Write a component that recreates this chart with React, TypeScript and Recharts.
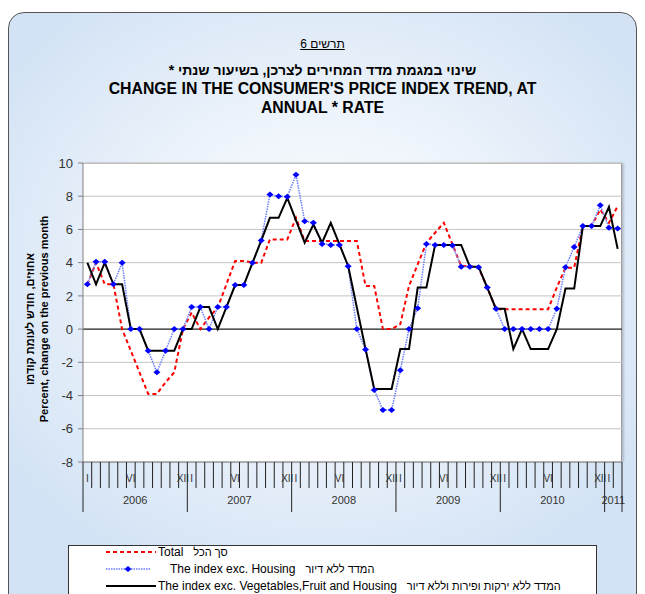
import React from 'react';
import { LineChart, Line, XAxis, YAxis, CartesianGrid, ReferenceLine } from 'recharts';

// monthly, Jan 2006 .. Feb 2011
const years = ['2006', '2007', '2008', '2009', '2010', '2011'];
const monthLabels = ['I', '', '', '', '', 'VI', '', '', '', '', '', 'XII'];

const total = [
  2.7, 4.0, 2.7, 2.7, 0, -1.3, -2.6, -3.9, -3.9, -3.2, -2.6, 0,
  1.0, 0, 0.7, 1.3, 2.7, 4.1, 4.1, 4.0, 4.0, 5.4, 5.4, 5.4,
  6.7, 5.3, 5.3, 5.3, 5.3, 5.3, 5.3, 5.3, 2.6, 2.6, 0, 0,
  0.3, 2.6, 3.9, 5.2, 5.8, 6.4, 5.1, 3.8, 3.8, 3.7, 2.5, 1.2,
  1.2, 1.2, 1.2, 1.2, 1.2, 1.2, 2.5, 3.7, 3.7, 6.2, 6.2, 7.2,
  6.4, 7.4,
];

const exHousing = [
  2.7, 4.05, 4.05, 2.7, 4.0, 0, 0, -1.3, -2.6, -1.3, 0, 0,
  1.33, 1.33, 0, 1.33, 1.33, 2.65, 2.65, 4.0, 5.33, 8.1, 8.0, 7.97,
  9.3, 6.5, 6.4, 5.13, 5.07, 5.07, 3.78, 0, -1.23, -3.66, -4.87, -4.87,
  -2.48, 0, 1.25, 5.13, 5.07, 5.07, 5.03, 3.76, 3.76, 3.72, 2.5, 1.23,
  0, 0, 0, 0, 0, 0, 1.23, 3.72, 4.95, 6.2, 6.2, 7.45,
  6.1, 6.06,
];

const exVegFruitHousing = [
  4.0, 2.7, 4.0, 2.7, 2.7, 0, 0, -1.3, -1.3, -1.3, -1.3, 0,
  0, 1.33, 1.33, 0, 1.33, 2.65, 2.65, 4.0, 5.33, 6.7, 6.7, 7.9,
  6.55, 5.2, 6.3, 5.2, 6.4, 5.1, 3.8, 1.3, -1.2, -3.6, -3.6, -3.6,
  -1.2, -1.2, 2.5, 2.5, 5.07, 5.07, 5.07, 5.07, 3.76, 3.76, 2.5, 1.23,
  1.23, -1.2, 0, -1.2, -1.2, -1.2, 0, 2.44, 2.44, 6.2, 6.2, 6.2,
  7.35, 4.83,
];

const yTicks = [-8, -6, -4, -2, 0, 2, 4, 6, 8, 10];

const N = total.length;
const data = total.map((t, i) => ({
  x: i + 0.5,
  total: t,
  exHousing: exHousing[i],
  exVeg: exVegFruitHousing[i],
}));
const boundaries = Array.from({ length: N + 1 }, (_, i) => i);

const FONT = '"Liberation Sans", Arial, sans-serif';
const PLOT_L = 83;
const PLOT_R = 622;
const PLOT_T = 163;
const PLOT_B = 462;
const MONTH_W = (PLOT_R - PLOT_L) / N;

const yearCenter = (k: number) => (12 * k + Math.min(12 * k + 12, N)) / 2;

const XTick = (props: any) => {
  const { x, y, payload } = props;
  const v = payload.value as number;
  const isYearEdge = v % 12 === 0 || v === N;
  const label = v < N ? monthLabels[v % 12] : '';
  const yi = years.findIndex((_, k) => yearCenter(k) === v);
  return (
    <g>
      <line x1={x} y1={y} x2={x} y2={y + (isYearEdge ? 50 : 26)} stroke="#222" strokeWidth={1} />
      {label && (
        <text x={x + MONTH_W / 2} y={y + 20} textAnchor="middle" fontSize={10} fill="#333" fontFamily={FONT}>
          {label}
        </text>
      )}
      {yi >= 0 && (
        <text x={x} y={y + 42} textAnchor="middle" fontSize={11} fill="#333" fontFamily={FONT}>
          {years[yi]}
        </text>
      )}
    </g>
  );
};

const Diamond = (props: any) => {
  const { cx, cy, index } = props;
  if (cx == null || cy == null) return <g key={index} />;
  return (
    <path
      key={index}
      d={`M${cx - 3.5},${cy} L${cx},${cy - 3} L${cx + 3.5},${cy} L${cx},${cy + 3} Z`}
      fill="#0000ff"
    />
  );
};

const legendRows = [
  { en: 'Total', he: 'סך הכל', kind: 'red', pad: 0 },
  { en: 'The index exc. Housing', he: 'המדד ללא דיור', kind: 'blue', pad: 12 },
  { en: 'The index exc. Vegetables,Fruit and Housing', he: 'המדד ללא ירקות ופירות וללא דיור', kind: 'black', pad: 0 },
];

const Sample = ({ kind }: { kind: string }) => (
  <svg width={50} height={10} style={{ display: 'block' }}>
    {kind === 'red' && <line x1={0} y1={5} x2={50} y2={5} stroke="#ff0000" strokeWidth={2} strokeDasharray="4 3" />}
    {kind === 'blue' && (
      <>
        <line x1={0} y1={5} x2={44} y2={5} stroke="#6a7dff" strokeWidth={1.5} strokeDasharray="1.5 1" />
        <path d="M18.5,5 L22,2 L25.5,5 L22,8 Z" fill="#0000ff" />
      </>
    )}
    {kind === 'black' && <line x1={0} y1={5} x2={50} y2={5} stroke="#000" strokeWidth={2} />}
  </svg>
);

export default function App() {
  return (
    <div dir="ltr" style={{ position: 'absolute', left: 0, top: 0, width: 645, height: 594, overflow: 'hidden', fontFamily: FONT }}>
      <div
        style={{
          position: 'absolute',
          left: 8,
          top: 12,
          width: 629,
          height: 610,
          boxSizing: 'border-box',
          border: '1.5px solid #555',
          borderRadius: 16,
          background: 'radial-gradient(ellipse 62% 55% at 50% 42%, #ffffff 0%, #eef4fb 45%, #d3e3f5 100%)',
        }}
      />
      <div dir="rtl" style={{ position: 'absolute', left: 0, width: 645, top: 37, textAlign: 'center', fontSize: 12, textDecoration: 'underline' }}>
        תרשים 6
      </div>
      <div dir="rtl" style={{ position: 'absolute', left: 0, width: 645, top: 62, textAlign: 'center', fontSize: 14, fontWeight: 'bold' }}>
        שינוי במגמת מדד המחירים לצרכן, בשיעור שנתי *
      </div>
      <div style={{ position: 'absolute', left: 0, width: 645, top: 79, textAlign: 'center', fontSize: 15.8, fontWeight: 'bold', lineHeight: '19px' }}>
        CHANGE IN THE CONSUMER'S PRICE INDEX TREND, AT
        <br />
        ANNUAL * RATE
      </div>
      <div
        style={{
          position: 'absolute',
          left: PLOT_L,
          top: PLOT_T,
          width: PLOT_R - PLOT_L,
          height: PLOT_B - PLOT_T,
          background: '#fff',
          borderTop: '1px solid #b8b8b8',
          borderRight: '1px solid #9a9a9a',
          boxShadow: '2px 0 2px rgba(0,0,0,0.18)',
          boxSizing: 'border-box',
        }}
      />
      <div
        style={{
          position: 'absolute',
          left: 37 - 150,
          top: 313 - 8,
          width: 300,
          textAlign: 'center',
          transform: 'rotate(-90deg)',
          fontSize: 11,
          fontWeight: 'bold',
          lineHeight: '14px',
          whiteSpace: 'nowrap',
        }}
      >
        אחוזים, חודש לעומת קודמו
        <br />
        Percent, change on the previous month
      </div>
      <div style={{ position: 'absolute', left: 0, top: 0 }}>
        <LineChart width={645} height={594} data={data} margin={{ top: PLOT_T, right: 645 - PLOT_R, bottom: 0, left: 0 }}>
          <CartesianGrid vertical={false} stroke="#c4c4c4" strokeWidth={1} />
          <XAxis
            dataKey="x"
            type="number"
            domain={[0, N]}
            ticks={boundaries}
            interval={0}
            tickSize={0}
            tickMargin={0}
            tickLine={false}
            axisLine={{ stroke: '#808080' }}
            tick={<XTick />}
            height={594 - PLOT_B}
          />
          <YAxis
            domain={[-8, 10]}
            ticks={yTicks}
            interval={0}
            width={PLOT_L}
            tickSize={5}
            tickMargin={5}
            axisLine={{ stroke: '#808080' }}
            tickLine={{ stroke: '#808080' }}
            tick={{ fontSize: 13, fill: '#333', fontFamily: FONT }}
          />
          <ReferenceLine y={0} stroke="#000" strokeWidth={1} />
          <Line
            dataKey="total"
            type="linear"
            stroke="#ff0000"
            strokeWidth={2}
            strokeDasharray="4 3"
            dot={false}
            isAnimationActive={false}
          />
          <Line
            dataKey="exHousing"
            type="linear"
            stroke="#6a7dff"
            strokeWidth={1.5}
            strokeDasharray="1.5 1"
            dot={<Diamond />}
            isAnimationActive={false}
          />
          <Line
            dataKey="exVeg"
            type="linear"
            stroke="#000"
            strokeWidth={2}
            dot={false}
            isAnimationActive={false}
          />
        </LineChart>
      </div>
      <div
        style={{
          position: 'absolute',
          left: 68,
          top: 545,
          width: 529,
          height: 70,
          background: '#fff',
          border: '1px solid #333',
          boxSizing: 'border-box',
        }}
      >
        {legendRows.map((r, i) => (
          <div
            key={r.kind}
            style={{ position: 'absolute', left: 37, top: -2 + i * 17, height: 15, display: 'flex', alignItems: 'center', fontSize: 12, whiteSpace: 'pre' }}
          >
            <Sample kind={r.kind} />
            <span style={{ marginLeft: 2 + r.pad }}>{r.en}</span>
            <span style={{ marginLeft: 10, fontSize: 11 }}>{r.he}</span>
          </div>
        ))}
      </div>
    </div>
  );
}
